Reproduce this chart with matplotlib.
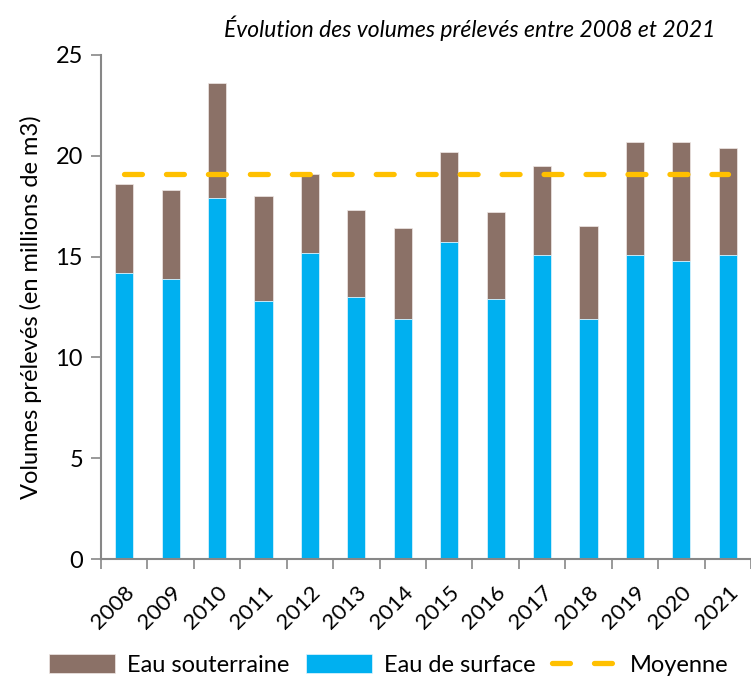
import matplotlib.pyplot as plt
import numpy as np

# Données (millions de m3)
annees = ['2008', '2009', '2010', '2011', '2012', '2013', '2014',
          '2015', '2016', '2017', '2018', '2019', '2020', '2021']
eau_surface = [14.2, 13.9, 17.9, 12.8, 15.2, 13.0, 11.9,
               15.7, 12.9, 15.1, 11.9, 15.1, 14.8, 15.1]
eau_souterraine = [4.4, 4.4, 5.7, 5.2, 3.9, 4.3, 4.5,
                   4.5, 4.3, 4.4, 4.6, 5.6, 5.9, 5.3]
moyenne = 19.1

plt.rcParams['font.family'] = ['Lato', 'DejaVu Sans']

brun = '#8B7167'
bleu = '#00B0F0'
jaune = '#FFC000'
gris = '#878787'

fig = plt.figure(figsize=(7.51, 6.78), dpi=100)
ax = fig.add_axes([0.1345, 0.1755, 0.8655, 0.7435])

x = np.arange(len(annees))
b1 = ax.bar(x, eau_souterraine, 0.39, bottom=eau_surface, color=brun,
            edgecolor='#f0e8e6', linewidth=0.5, label='Eau souterraine')
b2 = ax.bar(x, eau_surface, 0.39, color=bleu, edgecolor='#e6f6fd',
            linewidth=0.5, label='Eau de surface')
l1, = ax.plot([x[0], x[-1]], [moyenne, moyenne], color=jaune, linewidth=3.8,
              linestyle=(0, (3.4, 4.55)), dash_capstyle='round', label='Moyenne')

ax.set_xlim(-0.5, len(annees) - 0.5)
ax.set_ylim(0, 25)
ax.set_yticks([0, 5, 10, 15, 20, 25])
ax.tick_params(axis='y', labelsize=17, length=7, width=1.2, color=gris, pad=6)

ax.set_xticks(x)
ax.set_xticklabels(annees, rotation=45, ha='right', rotation_mode='anchor',
                   fontsize=16)
ax.tick_params(axis='x', which='major', length=0, pad=17)
ax.set_xticks(np.arange(-0.5, len(annees), 1), minor=True)
ax.tick_params(axis='x', which='minor', length=7, width=1.2, color=gris)

for s in ['top', 'right']:
    ax.spines[s].set_visible(False)
for s in ['left', 'bottom']:
    ax.spines[s].set_color(gris)
    ax.spines[s].set_linewidth(1.5)

ax.set_ylabel('Volumes prélevés (en millions de m3)', fontsize=17, labelpad=10)
ax.set_title('Évolution des volumes prélevés entre 2008 et 2021',
             fontsize=16.5, style='italic', x=0.567, pad=13)

fig.legend(handles=[b1, b2, l1], loc='lower center', ncol=3, frameon=False,
           fontsize=17, bbox_to_anchor=(0.518, -0.028), handlelength=2.8,
           handleheight=0.8, columnspacing=0.7, handletextpad=0.5)

fig.savefig('out.png', dpi=100)
